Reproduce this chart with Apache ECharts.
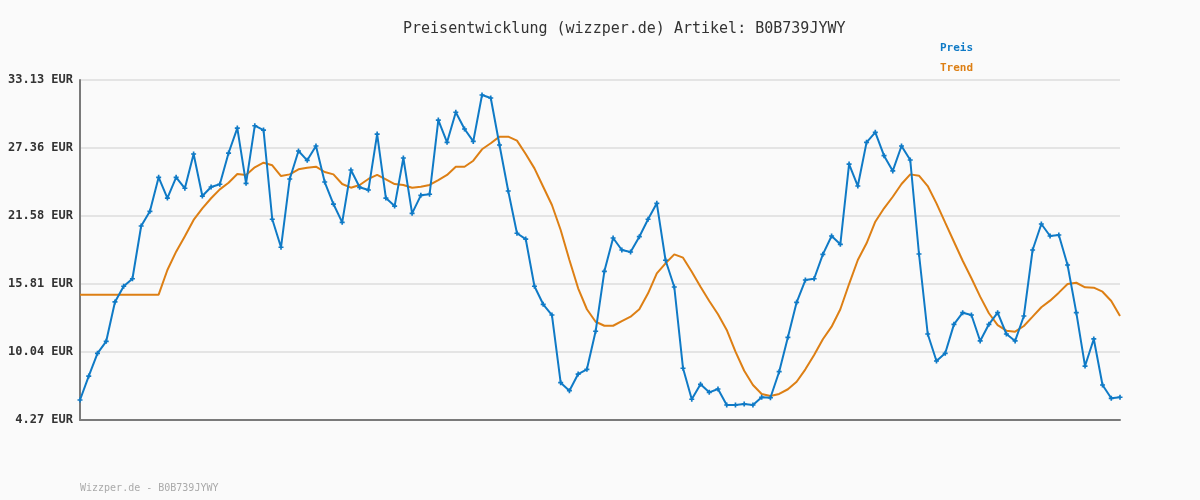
<!DOCTYPE html>
<html>
<head>
<meta charset="utf-8">
<script src="https://cdn.jsdelivr.net/npm/echarts@6/dist/echarts.min.js"></script>
<style>
html,body{margin:0;padding:0;background:#fafafa;}
#chart{width:1200px;height:500px;}
</style>
</head>
<body>
<div id="chart"></div>
<script>
const titleText = 'Preisentwicklung (wizzper.de) Artikel: B0B739JYWY';
const footerText = 'Wizzper.de - B0B739JYWY';
const yTicks = [4.27, 10.04, 15.81, 21.58, 27.36, 33.13];

const preis = [
  5.97, 8.00, 9.93, 10.95, 14.29, 15.62, 16.26, 20.74, 21.98, 24.87,
  23.11, 24.87, 23.94, 26.85, 23.28, 24.05, 24.28, 26.93, 29.05, 24.36,
  29.25, 28.88, 21.31, 18.93, 24.73, 27.10, 26.31, 27.53, 24.47, 22.60,
  21.05, 25.49, 24.02, 23.79, 28.54, 23.11, 22.43, 26.51, 21.81, 23.34,
  23.43, 29.73, 27.84, 30.39, 28.97, 27.92, 31.86, 31.60, 27.61, 23.71,
  20.12, 19.63, 15.62, 14.09, 13.18, 7.44, 6.76, 8.17, 8.57, 11.80,
  16.89, 19.72, 18.70, 18.53, 19.83, 21.31, 22.66, 17.83, 15.56, 8.66,
  6.03, 7.30, 6.62, 6.90, 5.54, 5.54, 5.63, 5.54, 6.20, 6.16,
  8.37, 11.29, 14.26, 16.15, 16.26, 18.33, 19.89, 19.18, 25.99, 24.13,
  27.84, 28.69, 26.71, 25.41, 27.53, 26.34, 18.36, 11.57, 9.28, 9.93,
  12.39, 13.38, 13.18, 10.98, 12.39, 13.38, 11.57, 10.98, 13.10, 18.70,
  20.91, 19.89, 19.97, 17.43, 13.38, 8.85, 11.15, 7.24, 6.11, 6.20
];

const trend = [
  14.91, 14.91, 14.91, 14.91, 14.91, 14.91, 14.91, 14.91, 14.91, 14.91,
  17.00, 18.56, 19.86, 21.25, 22.24, 23.09, 23.85, 24.41, 25.15, 25.07,
  25.72, 26.11, 25.89, 24.98, 25.12, 25.55, 25.69, 25.77, 25.32, 25.12,
  24.30, 23.99, 24.22, 24.73, 25.07, 24.70, 24.30, 24.22, 23.99, 24.07,
  24.22, 24.64, 25.07, 25.77, 25.77, 26.28, 27.25, 27.76, 28.32, 28.32,
  27.98, 26.85, 25.63, 24.07, 22.52, 20.40, 17.85, 15.45, 13.67, 12.61,
  12.27, 12.27, 12.67, 13.04, 13.67, 15.02, 16.72, 17.57, 18.33, 18.05,
  16.86, 15.58, 14.37, 13.24, 11.91, 10.07, 8.45, 7.24, 6.48, 6.31,
  6.48, 6.88, 7.52, 8.57, 9.79, 11.12, 12.19, 13.67, 15.81, 17.85,
  19.27, 21.10, 22.24, 23.22, 24.30, 25.12, 25.01, 24.13, 22.66, 21.02,
  19.40, 17.79, 16.30, 14.74, 13.33, 12.33, 11.85, 11.77, 12.25, 13.04,
  13.84, 14.40, 15.08, 15.81, 15.92, 15.53, 15.50, 15.16, 14.37, 13.10
];

const categories = preis.map((_, i) => String(i + 1));

const mono = '"DejaVu Sans Mono", "Liberation Mono", monospace';
const blue = '#0f7ac6';
const orange = '#dd7f14';

const chart = echarts.init(document.getElementById('chart'), null, {renderer: 'canvas'});
chart.setOption({
  backgroundColor: '#fafafa',
  animation: false,
  title: [
    {
      text: titleText,
      left: 398,
      top: 17,
      textStyle: {fontFamily: mono, fontSize: 15, fontWeight: 'normal', color: '#333'}
    },
    {
      text: footerText,
      left: 75,
      top: 478,
      textStyle: {fontFamily: mono, fontSize: 10, fontWeight: 'normal', color: '#aaaaaa'}
    }
  ],
  legend: {
    orient: 'vertical',
    left: 930,
    top: 37,
    icon: 'none',
    itemWidth: 0,
    itemHeight: 12,
    itemGap: 9,
    textStyle: {fontFamily: mono, fontSize: 11, fontWeight: 'bold'},
    data: [
      {name: 'Preis', textStyle: {color: blue}},
      {name: 'Trend', textStyle: {color: orange}}
    ]
  },
  grid: {left: 80, right: 80, top: 80, bottom: 80, containLabel: false},
  xAxis: {
    type: 'category',
    data: categories,
    boundaryGap: false,
    axisLine: {show: true, lineStyle: {color: '#7a7a7a', width: 2}},
    axisTick: {show: false},
    axisLabel: {show: false},
    splitLine: {show: false}
  },
  yAxis: {
    type: 'value',
    min: yTicks[0],
    max: yTicks[yTicks.length - 1],
    axisLine: {show: true, lineStyle: {color: '#7a7a7a', width: 2}},
    axisTick: {show: false, customValues: yTicks},
    axisLabel: {
      customValues: yTicks,
      formatter: v => v.toFixed(2) + ' EUR',
      fontFamily: mono,
      fontSize: 12,
      fontWeight: 'bold',
      color: '#333',
      margin: 7
    },
    splitLine: {show: true, lineStyle: {color: '#e4e4e4', width: 2}}
  },
  series: [
    {
      name: 'Preis',
      type: 'line',
      data: preis,
      symbol: 'path://M2,0H4V2H6V4H4V6H2V4H0V2H2Z',
      symbolSize: 5,
      showAllSymbol: true,
      lineStyle: {color: blue, width: 2},
      itemStyle: {color: blue},
      z: 3
    },
    {
      name: 'Trend',
      type: 'line',
      data: trend,
      symbol: 'none',
      lineStyle: {color: orange, width: 2},
      itemStyle: {color: orange},
      z: 2
    }
  ]
});
</script>
</body>
</html>
